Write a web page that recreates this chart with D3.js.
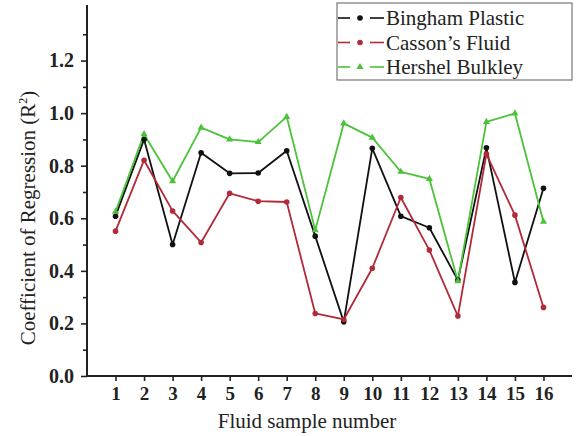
<!DOCTYPE html>
<html>
<head>
<meta charset="utf-8">
<script src="https://cdn.jsdelivr.net/npm/d3@7/dist/d3.min.js"></script>
<style>
  body { margin: 0; background: #fff; }
  text { font-family: "Liberation Serif", "Times New Roman", serif; }
</style>
</head>
<body>
<div class="chart"></div>
<script>
// data
const samples = d3.range(1, 17);
const bingham = [0.608, 0.900, 0.500, 0.849, 0.771, 0.772, 0.857, 0.532, 0.206, 0.866, 0.608, 0.564, 0.365, 0.868, 0.356, 0.714];
const casson  = [0.551, 0.821, 0.628, 0.508, 0.695, 0.665, 0.662, 0.238, 0.215, 0.410, 0.679, 0.479, 0.228, 0.844, 0.612, 0.261];
const hershel = [0.625, 0.920, 0.741, 0.945, 0.900, 0.890, 0.986, 0.555, 0.961, 0.907, 0.777, 0.750, 0.361, 0.967, 0.999, 0.587];
const seriesNames = ["Bingham Plastic", "Casson\u2019s Fluid", "Hershel Bulkley"];
const yTicks = [0.0, 0.2, 0.4, 0.6, 0.8, 1.0, 1.2];

const series = [
  {name: seriesNames[0], values: bingham, color: "#111111", marker: "circle"},
  {name: seriesNames[1], values: casson,  color: "#b22a3a", marker: "circle"},
  {name: seriesNames[2], values: hershel, color: "#4cc23a", marker: "triangle"}
];

const W = 577, H = 436;
const margin = {top: 5, left: 87, right: 5, bottom: 60};

const svg = d3.select(".chart").append("svg")
    .attr("width", W)
    .attr("height", H);

const xScale = d3.scaleLinear().domain([0, 17]).range([margin.left, 572]);
const yScale = d3.scaleLinear().domain([0, 1.4]).range([376, 8]);

// lines
const line = d3.line()
    .x((d, i) => xScale(samples[i]))
    .y(d => yScale(d));

const plot = svg.append("g");
series.forEach(s => {
  plot.append("path")
      .attr("d", line(s.values))
      .attr("fill", "none")
      .attr("stroke", s.color)
      .attr("stroke-width", 1.8)
      .attr("stroke-linejoin", "round");
});

function drawMarker(g, type, x, y, color) {
  if (type === "triangle") {
    g.append("path")
      .attr("d", d3.symbol(d3.symbolTriangle, 22)())
      .attr("transform", `translate(${x},${y})`)
      .attr("fill", color);
  } else {
    g.append("circle")
      .attr("cx", x).attr("cy", y).attr("r", 2.8)
      .attr("fill", color);
  }
}

series.forEach(s => {
  s.values.forEach((v, i) => drawMarker(plot, s.marker, xScale(samples[i]), yScale(v), s.color));
});

// axes
const yAxis = d3.axisLeft(yScale)
    .tickValues(yTicks)
    .tickFormat(d3.format(".1f"))
    .tickSize(6);
const yMinor = d3.axisLeft(yScale)
    .tickValues(d3.range(0.1, 1.4, 0.2))
    .tickFormat("")
    .tickSize(4);

const yAxisG = svg.append("g")
    .attr("transform", `translate(${margin.left},0)`)
    .call(yAxis);
svg.append("g")
    .attr("transform", `translate(${margin.left},0)`)
    .call(yMinor);

const xAxis = d3.axisBottom(xScale)
    .tickValues(samples)
    .tickFormat(d3.format("d"))
    .tickSize(5);
const xAxisG = svg.append("g")
    .attr("transform", `translate(0,376)`)
    .call(xAxis);

svg.selectAll(".domain").remove();
svg.append("line")
    .attr("x1", margin.left).attr("x2", margin.left)
    .attr("y1", 5).attr("y2", 377)
    .attr("stroke", "#222").attr("stroke-width", 2);
svg.append("line")
    .attr("x1", margin.left - 1).attr("x2", 572)
    .attr("y1", 376).attr("y2", 376)
    .attr("stroke", "#222").attr("stroke-width", 2);

svg.selectAll(".tick line").attr("stroke", "#222").attr("stroke-width", 1.6);
svg.selectAll(".tick text")
    .attr("fill", "#222")
    .style("font-weight", "bold")
    .style("font-family", "Liberation Serif, serif");
yAxisG.selectAll(".tick text").attr("x", -13).style("font-size", "20px");
xAxisG.selectAll(".tick text").attr("y", 11).style("font-size", "19px");

// axis titles
svg.append("text")
    .attr("x", 307).attr("y", 428)
    .attr("text-anchor", "middle")
    .style("font-size", "21px")
    .attr("fill", "#222")
    .text("Fluid sample number");

svg.append("text")
    .attr("transform", "translate(35,218) rotate(-90)")
    .attr("text-anchor", "middle")
    .style("font-size", "21px")
    .attr("fill", "#222")
    .html("Coefficient of Regression (R<tspan dy='-8' font-size='12px'>2</tspan><tspan dy='8'>)</tspan>");

// legend
const legend = svg.append("g");
legend.append("rect")
    .attr("x", 337).attr("y", 3)
    .attr("width", 235).attr("height", 77)
    .attr("fill", "#fff")
    .attr("stroke", "#777")
    .attr("stroke-width", 1.2);

series.forEach((s, i) => {
  const y = 18 + i * 24.5;
  const g = legend.append("g");
  g.append("line").attr("x1", 338).attr("x2", 350).attr("y1", y).attr("y2", y)
    .attr("stroke", s.color).attr("stroke-width", 1.6);
  g.append("line").attr("x1", 370).attr("x2", 384).attr("y1", y).attr("y2", y)
    .attr("stroke", s.color).attr("stroke-width", 1.6);
  drawMarker(g, s.marker, 360, y, s.color);
  g.append("text")
    .attr("x", 386).attr("y", y + 7)
    .style("font-size", "21px")
    .attr("fill", "#222")
    .text(s.name);
});
</script>
</body>
</html>
